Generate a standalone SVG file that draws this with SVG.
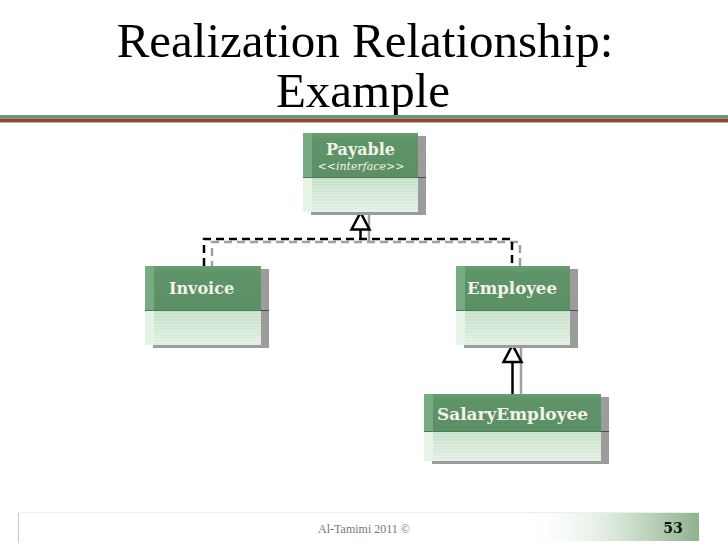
<svg xmlns="http://www.w3.org/2000/svg" width="728" height="546" viewBox="0 0 728 546">
<defs>
  <linearGradient id="hdr" x1="0" y1="0" x2="0" y2="1">
    <stop offset="0" stop-color="#6a9c73"/>
    <stop offset="0.15" stop-color="#5f9469"/>
    <stop offset="1" stop-color="#5b9065"/>
  </linearGradient>
  <linearGradient id="bdy" x1="0" y1="0" x2="0" y2="1">
    <stop offset="0" stop-color="#c3dfc7"/>
    <stop offset="1" stop-color="#e2f0e3"/>
  </linearGradient>
  <pattern id="stripes" width="4" height="3" patternUnits="userSpaceOnUse">
    <rect width="4" height="1" fill="#ffffff" fill-opacity="0.25"/>
  </pattern>
  <linearGradient id="foot" x1="0" y1="0" x2="1" y2="0">
    <stop offset="0" stop-color="#ffffff" stop-opacity="0"/>
    <stop offset="0.55" stop-color="#d6e6d6"/>
    <stop offset="1" stop-color="#8fb38f"/>
  </linearGradient>
  <style>
    .title{font-family:"Liberation Serif","Times New Roman",serif;font-size:49px;fill:#000;text-anchor:middle}
    .shadow{fill:#9c9c9c}
    .shline{stroke:#4a4a4a;stroke-width:1}
    .hdr{fill:url(#hdr)}
    .hdrl{fill:#79ab83}
    .bdy{fill:url(#bdy)}
    .bdyl{fill:#e6f4e8}
    .str{fill:url(#stripes)}
    .div{stroke:#4c7c56;stroke-width:1}
    .name{font-family:"DejaVu Serif",Georgia,serif;font-weight:bold;font-size:16px;fill:#f3f3ea}
    .stereo{font-family:"DejaVu Serif",Georgia,serif;font-style:italic;font-size:11px;fill:#f3f3ea;text-anchor:middle}
    .dash{fill:none;stroke:#000;stroke-width:2.5;stroke-dasharray:8 5}
    .dashsh{fill:none;stroke:#a0a0a0;stroke-width:2.5;stroke-dasharray:8 5}
    .solid{fill:none;stroke:#000;stroke-width:2.5}
    .solidsh{fill:none;stroke:#a0a0a0;stroke-width:2.5}
    .tri{fill:#fff;stroke:#000;stroke-width:2.5;stroke-linejoin:miter}
    .foot{font-family:"Liberation Serif","Times New Roman",serif;font-size:12px;fill:#777;text-anchor:middle}
    .num{font-family:"DejaVu Serif",Georgia,serif;font-weight:bold;font-size:14px;fill:#111;text-anchor:middle}
  </style>
</defs>

<rect width="728" height="546" fill="#fff"/>

<g id="title">
  <text class="title" x="365" y="57">Realization Relationship:</text>
  <text class="title" x="363" y="107">Example</text>
  <rect x="0" y="115" width="728" height="3.5" fill="#6f9577"/>
  <rect x="0" y="118.5" width="728" height="4" fill="#8a4a3e"/>
</g>

<g id="connectors">
  <path class="dashsh" d="M212 269 V242 H520 V269"/>
  <path class="solidsh" d="M369 215 V242"/>
  <path class="dash" d="M204 266 V239 H512 V266"/>
  <path class="solid" d="M360.5 229 V239"/>
  <polygon class="tri" points="360.5,212.5 351.5,229.5 369.5,229.5"/>
  <path class="solidsh" d="M521 347 V394"/>
  <path class="solid" d="M512.5 362 V394"/>
  <polygon class="tri" points="512.5,345 503.5,362 521.5,362"/>
</g>

<g id="payable">
  <rect class="shadow" x="311" y="136" width="115" height="79"/>
  <line class="shline" x1="418" y1="177.5" x2="426" y2="177.5"/>
  <rect class="hdr" x="303" y="133" width="115" height="44"/>
  <rect class="hdrl" x="303" y="133" width="9" height="44"/>
  <rect class="bdy" x="303" y="177" width="115" height="35"/>
  <rect class="str" x="303" y="177" width="115" height="35"/>
  <rect class="bdyl" x="303" y="177" width="9" height="35"/>
  <line class="div" x1="303" y1="177.5" x2="418" y2="177.5"/>
  <text class="name" x="360.5" y="155" text-anchor="middle">Payable</text>
  <text class="stereo" x="361" y="170">&lt;&lt;interface&gt;&gt;</text>
</g>

<g id="invoice">
  <rect class="shadow" x="153" y="269" width="116" height="79"/>
  <line class="shline" x1="261" y1="310.5" x2="269" y2="310.5"/>
  <rect class="hdr" x="145" y="266" width="116" height="44"/>
  <rect class="hdrl" x="145" y="266" width="9" height="44"/>
  <rect class="bdy" x="145" y="310" width="116" height="35"/>
  <rect class="str" x="145" y="310" width="116" height="35"/>
  <rect class="bdyl" x="145" y="310" width="9" height="35"/>
  <line class="div" x1="145" y1="310.5" x2="261" y2="310.5"/>
  <text class="name" x="169" y="294">Invoice</text>
</g>

<g id="employee">
  <rect class="shadow" x="464" y="269" width="114" height="79"/>
  <line class="shline" x1="570" y1="310.5" x2="578" y2="310.5"/>
  <rect class="hdr" x="456" y="266" width="114" height="44"/>
  <rect class="hdrl" x="456" y="266" width="9" height="44"/>
  <rect class="bdy" x="456" y="310" width="114" height="35"/>
  <rect class="str" x="456" y="310" width="114" height="35"/>
  <rect class="bdyl" x="456" y="310" width="9" height="35"/>
  <line class="div" x1="456" y1="310.5" x2="570" y2="310.5"/>
  <text class="name" x="467" y="294" textLength="90" lengthAdjust="spacingAndGlyphs">Employee</text>
</g>

<g id="salaryemployee">
  <rect class="shadow" x="432" y="397" width="177" height="67"/>
  <line class="shline" x1="601" y1="431.5" x2="609" y2="431.5"/>
  <rect class="hdr" x="424" y="394" width="177" height="37"/>
  <rect class="hdrl" x="424" y="394" width="9" height="37"/>
  <rect class="bdy" x="424" y="431" width="177" height="30"/>
  <rect class="str" x="424" y="431" width="177" height="30"/>
  <rect class="bdyl" x="424" y="431" width="9" height="30"/>
  <line class="div" x1="424" y1="431.5" x2="601" y2="431.5"/>
  <text class="name" x="437" y="420" textLength="151" lengthAdjust="spacingAndGlyphs">SalaryEmployee</text>
</g>

<g id="footer">
  <line x1="18.5" y1="512" x2="18.5" y2="543" stroke="#c8c8c8" stroke-width="1"/>
  <line x1="18" y1="512.5" x2="700" y2="512.5" stroke="#eeeeee" stroke-width="1"/>
  <rect x="520" y="513" width="179" height="28" fill="url(#foot)"/>
  <text class="foot" x="364" y="533">Al-Tamimi 2011 ©</text>
  <text class="num" x="673" y="533">53</text>
</g>
</svg>
